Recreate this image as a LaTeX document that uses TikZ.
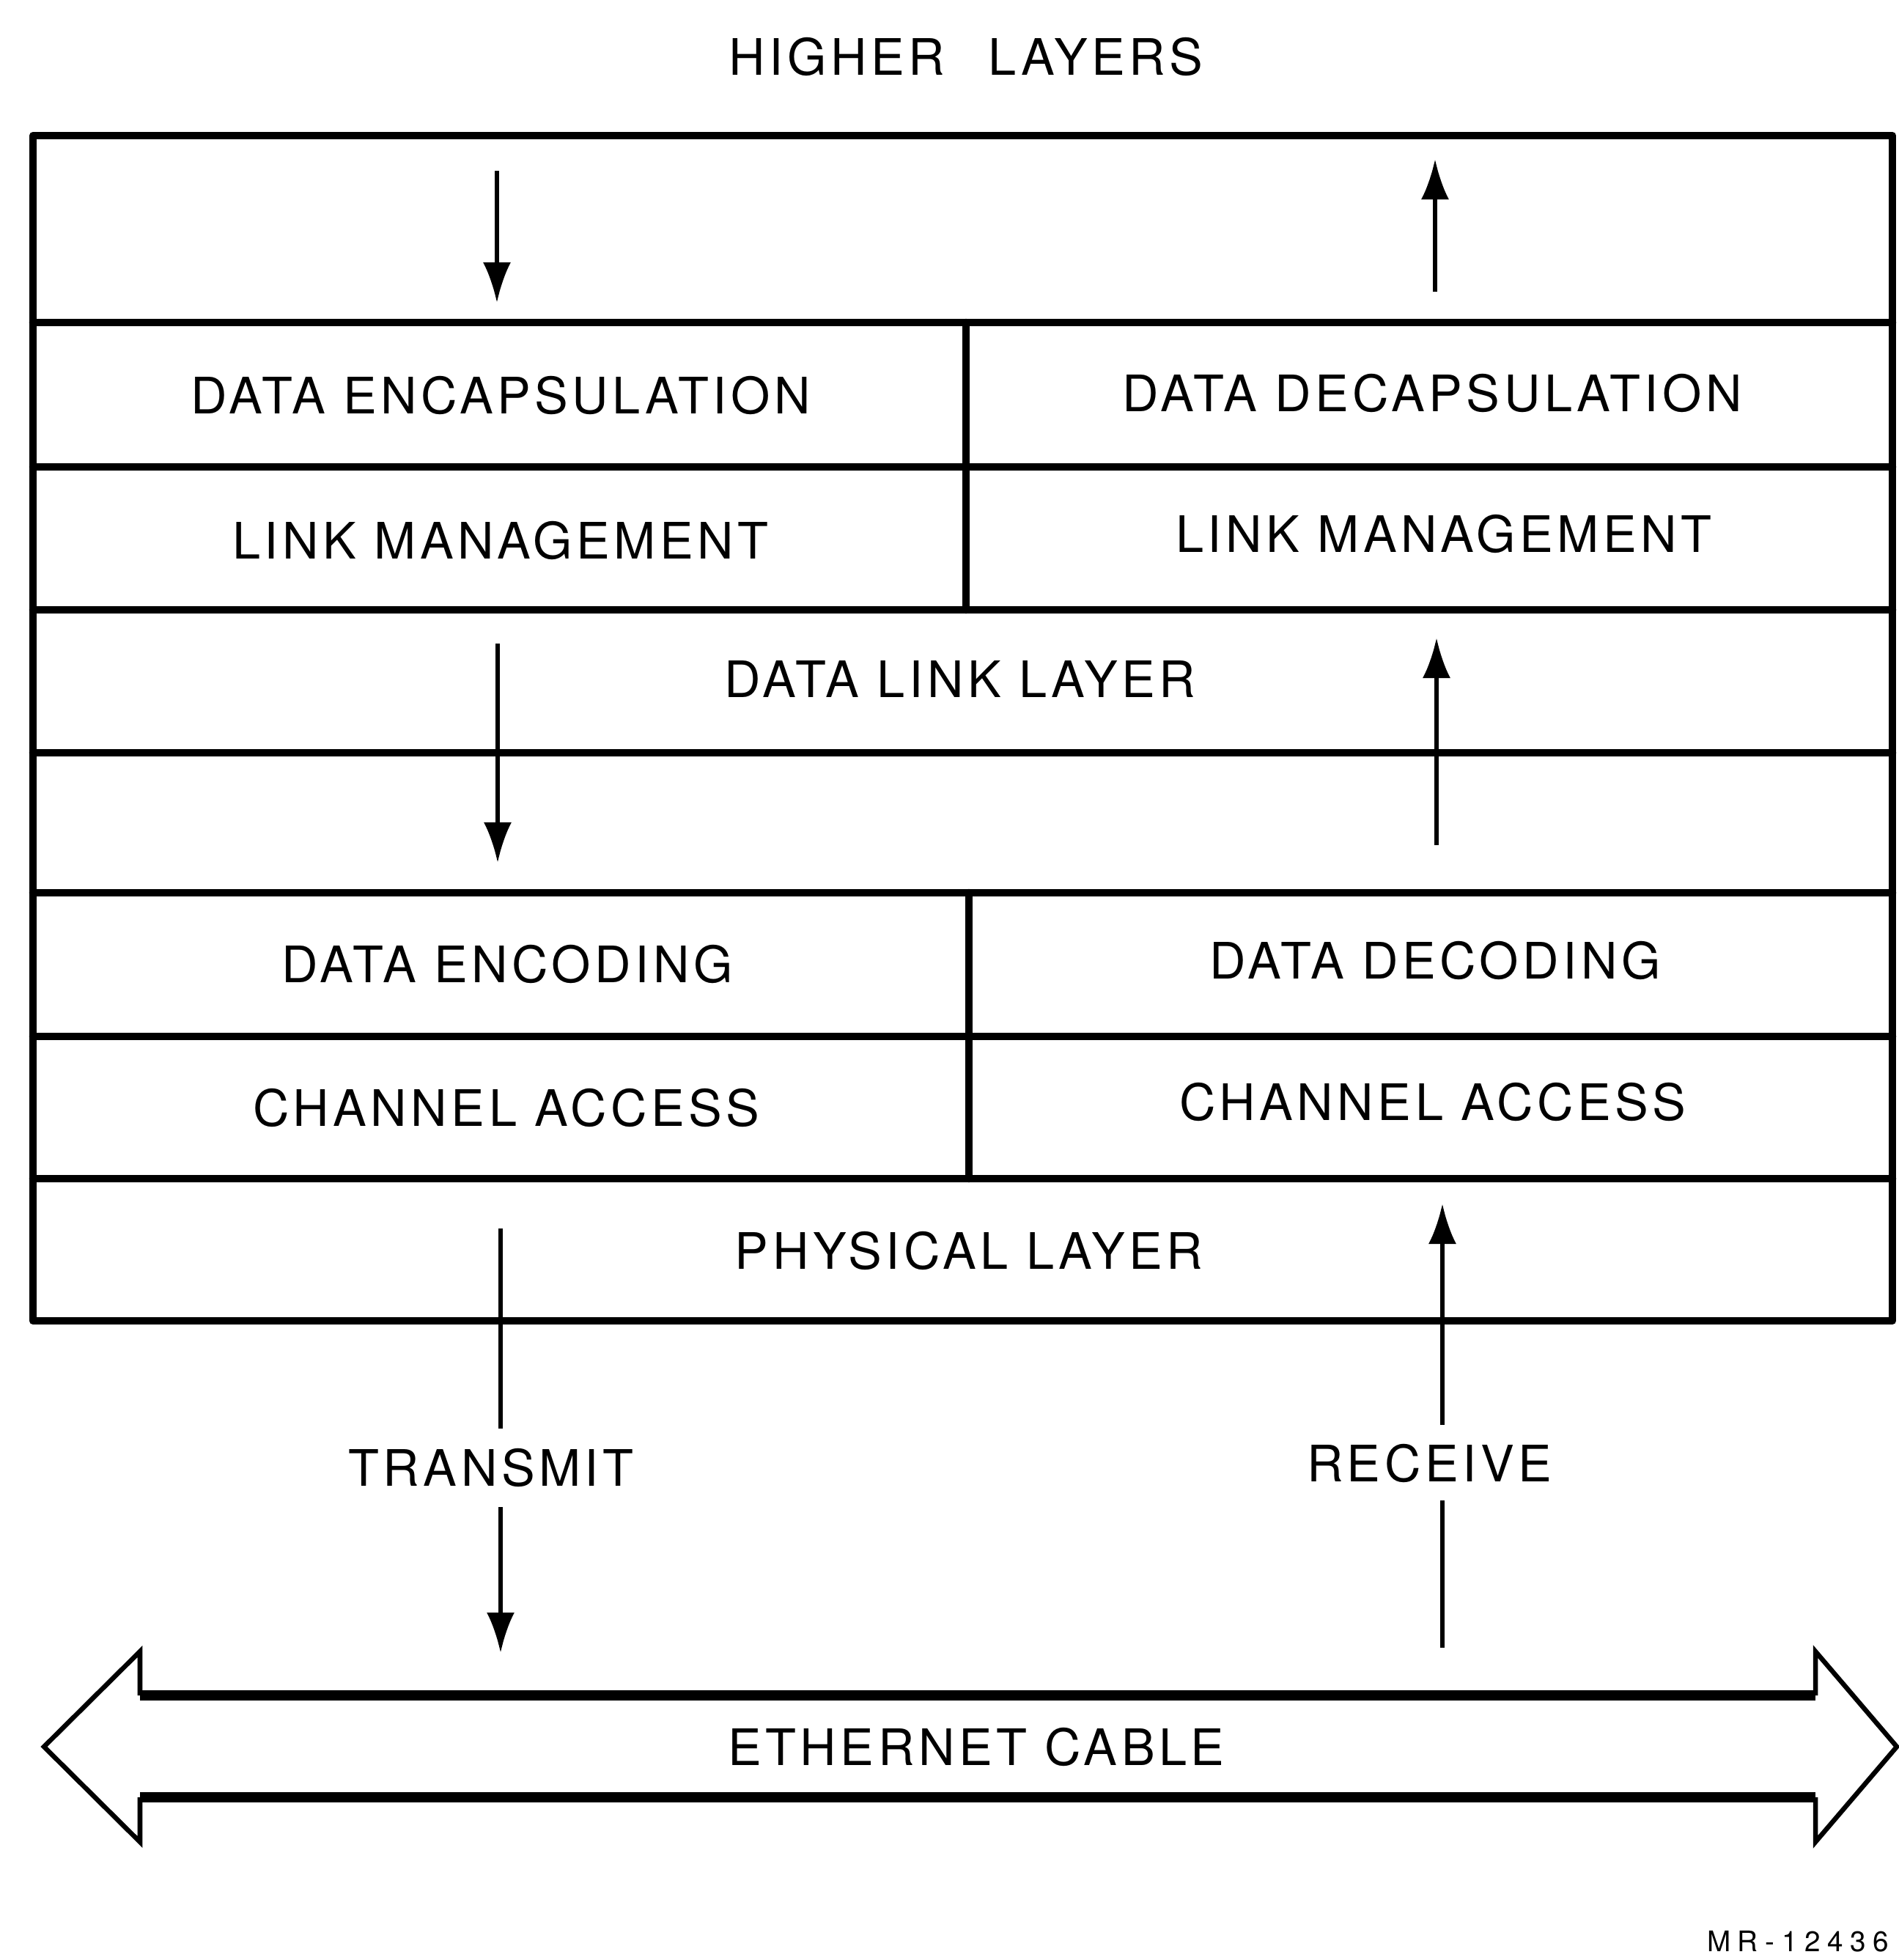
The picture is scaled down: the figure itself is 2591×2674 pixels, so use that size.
\documentclass[tikz,border=0pt]{standalone}
\usepackage{fontspec}
\setmainfont{TeX Gyre Heros}
\newfontfamily\labfont[LetterSpace=8]{TeX Gyre Heros}
\newfontfamily\mrfont[LetterSpace=25]{TeX Gyre Heros}
\usetikzlibrary{arrows.meta}
\begin{document}
\begin{tikzpicture}[x=0.01cm,y=-0.01cm,
  frame/.style={line width=1.05mm, line cap=round, line join=round},
  lbl/.style={font=\labfont\fontsize{19.5}{22}\selectfont, inner sep=0pt},
  flow/.style={line width=0.6mm},
  flowhead/.style={flow, -{Latex[length=5.5mm,width=3.8mm]}},
  shaft/.style={line width=1.4mm},
  headline/.style={line width=0.65mm, line join=miter}
]
\useasboundingbox (0,0) rectangle (2591,2674);

% title
\node[lbl] (higher) at (1318,77) {HIGHER\hspace{6mm}LAYERS};

% frame
\coordinate (tl) at (45,185);
\coordinate (br) at (2582,1802);
\draw[frame] (tl) rectangle (br);
\foreach \y in {440,637,832,1027,1218,1414,1608}
  \draw[frame] (45,\y) -- (2582,\y);
\draw[frame] (1318,440) -- (1318,832);
\draw[frame] (1322,1218) -- (1322,1608);

% cell labels
\node[lbl] (encap)   at (683,539)  {DATA ENCAPSULATION};
\node[lbl] (decap)   at (1954,536) {DATA DECAPSULATION};
\node[lbl] (lmL)     at (683,737)  {LINK MANAGEMENT};
\node[lbl] (lmR)     at (1970,728) {LINK MANAGEMENT};
\node[lbl] (dll)     at (1310,926) {DATA LINK LAYER};
\node[lbl] (encod)   at (692,1315) {DATA ENCODING};
\node[lbl] (decod)   at (1958,1310){DATA DECODING};
\node[lbl] (caL)     at (691,1511) {CHANNEL ACCESS};
\node[lbl] (caR)     at (1955,1503){CHANNEL ACCESS};
\node[lbl] (phys)    at (1322,1706){PHYSICAL LAYER};
\node[lbl] (transmit) at (670,2002) {TRANSMIT};
\node[lbl] (receive)  at (1950,1996){RECEIVE};
\node[lbl] (cable)    at (1332,2383){ETHERNET CABLE};
\node[font=\mrfont\fontsize{11}{13}\selectfont, inner sep=0pt, anchor=base east] (mr) at (2578,2662) {MR-12436};

% transmit side arrows
\coordinate (a1s) at (678,233);  \coordinate (a1e) at (678,413);
\coordinate (a2s) at (679,878);  \coordinate (a2e) at (679,1177);
\coordinate (a3s) at (683,1676); \coordinate (a3m) at (683,1949);
\coordinate (a3n) at (683,2056); \coordinate (a3e) at (683,2255);
\draw[flowhead] (a1s) -- (a1e);
\draw[flowhead] (a2s) -- (a2e);
\draw[flow] (a3s) -- (a3m);
\draw[flowhead] (a3n) -- (a3e);

% receive side arrows
\coordinate (r1s) at (1958,398);  \coordinate (r1e) at (1958,217);
\coordinate (r2s) at (1960,1153); \coordinate (r2e) at (1960,870);
\coordinate (r3s) at (1968,2248); \coordinate (r3m) at (1968,2047);
\coordinate (r3n) at (1968,1944); \coordinate (r3e) at (1968,1642);
\draw[flowhead] (r1s) -- (r1e);
\draw[flowhead] (r2s) -- (r2e);
\draw[flow] (r3s) -- (r3m);
\draw[flowhead] (r3n) -- (r3e);

% ethernet cable double arrow
\coordinate (cLt) at (191,2313); \coordinate (cLb) at (191,2452);
\coordinate (cRt) at (2477,2313); \coordinate (cRb) at (2477,2452);
\draw[shaft] (cLt) -- (cRt);
\draw[shaft] (cLb) -- (cRb);
\draw[headline] (cLt) -- (191,2253) -- (60,2383) -- (191,2513) -- (cLb);
\draw[headline] (cRt) -- (2477,2253) -- (2588,2383) -- (2477,2513) -- (cRb);
\end{tikzpicture}
\end{document}
